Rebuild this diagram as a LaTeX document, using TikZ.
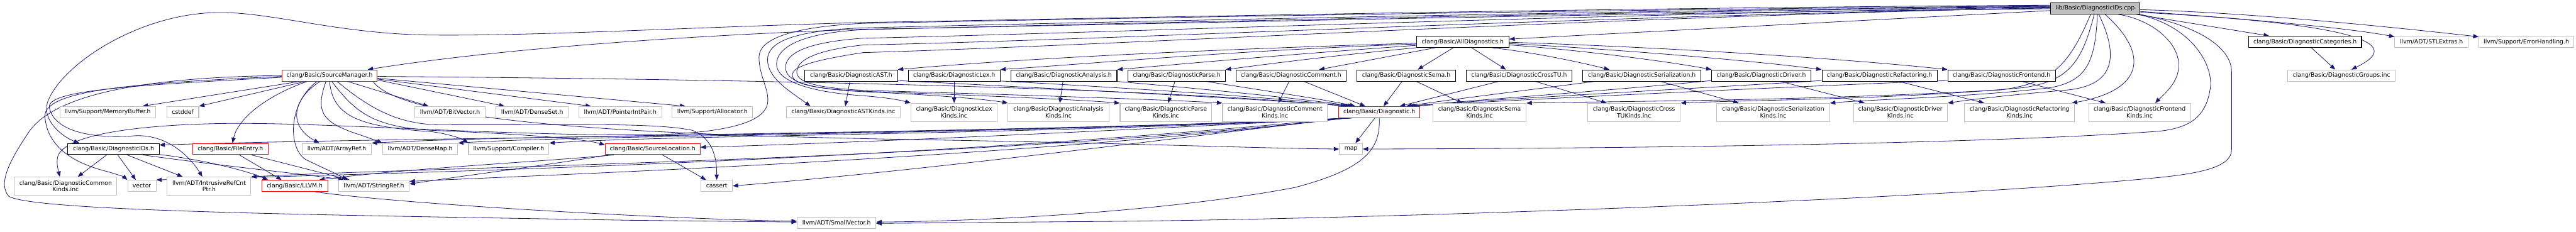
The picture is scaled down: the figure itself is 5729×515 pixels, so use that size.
\documentclass[tikz,border=0pt]{standalone}
\usepackage{fontspec}
\setmainfont{DejaVu Sans}
\usetikzlibrary{arrows.meta,calc}
\definecolor{edgeblue}{HTML}{191970}
\definecolor{boxgray}{HTML}{BFBFBF}
\definecolor{boxred}{HTML}{FF0000}
\newcommand\dgfont{\fontsize{9.75pt}{11.25pt}\selectfont}
\pgfdeclarelayer{edgelayer}
\pgfsetlayers{edgelayer,main}
\tikzset{
  box/.style={draw, rectangle, inner sep=0pt, minimum height=25*0.75pt, font=\dgfont, align=center, line width=1.1pt, fill=white},
  gbox/.style={box, draw=boxgray},
  rbox/.style={box, draw=boxred},
  kbox/.style={box, draw=black},
  two/.style={minimum height=40*0.75pt},
  wd/.style={minimum width=#1*0.75pt},
  dep/.style={draw=edgeblue, line width=0.85pt, -{Triangle[length=9pt,width=7pt]}},
}
\begin{document}
\begin{tikzpicture}[x=0.75pt,y=-0.75pt]
\useasboundingbox (0,0) rectangle (5729,515);
% ---------- nodes ----------
\node[kbox, fill=boxgray, wd=199] (root) at (4659.5,18.5) {lib/Basic/DiagnosticIDs.cpp};
\node[kbox, wd=206] (alld) at (3253,93) {clang/Basic/AllDiagnostics.h};
\node[kbox, wd=251] (cats) at (5126.5,93) {clang/Basic/DiagnosticCategories.h};
\node[gbox, wd=163] (stl) at (5407.5,93) {llvm/ADT/STLExtras.h};
\node[gbox, wd=211] (err) at (5618.5,93) {llvm/Support/ErrorHandling.h};
% row 2
\node[rbox, wd=212] (srcmgr) at (733,168) {clang/Basic/SourceManager.h};
\node[kbox, wd=206] (dast) at (1893,168) {clang/Basic/DiagnosticAST.h};
\node[kbox, wd=204] (dlex) at (2122,168) {clang/Basic/DiagnosticLex.h};
\node[kbox, wd=236] (dana) at (2366,168) {clang/Basic/DiagnosticAnalysis.h};
\node[kbox, wd=216] (dpar) at (2617,168) {clang/Basic/DiagnosticParse.h};
\node[kbox, wd=245] (dcom) at (2871.5,168) {clang/Basic/DiagnosticComment.h};
\node[kbox, wd=219] (dsema) at (3127.5,168) {clang/Basic/DiagnosticSema.h};
\node[kbox, wd=235] (dctu) at (3378.5,168) {clang/Basic/DiagnosticCrossTU.h};
\node[kbox, wd=263] (dser) at (3651.5,168) {clang/Basic/DiagnosticSerialization.h};
\node[kbox, wd=220] (ddrv) at (3917,168) {clang/Basic/DiagnosticDriver.h};
\node[kbox, wd=256] (dref) at (4180,168) {clang/Basic/DiagnosticRefactoring.h};
\node[kbox, wd=239] (dfro) at (4451.5,168) {clang/Basic/DiagnosticFrontend.h};
\node[gbox, wd=239] (groups) at (5207.5,168) {clang/Basic/DiagnosticGroups.inc};
% row 3
\node[gbox, wd=213] (membuf) at (239.5,249.5) {llvm/Support/MemoryBuffer.h};
\node[gbox, wd=71] (cstddef) at (406.5,249.5) {cstddef};
\node[gbox, wd=156] (bitvec) at (1001,249.5) {llvm/ADT/BitVector.h};
\node[gbox, wd=161] (denseset) at (1183.5,249.5) {llvm/ADT/DenseSet.h};
\node[gbox, wd=185] (pip) at (1379.5,249.5) {llvm/ADT/PointerIntPair.h};
\node[gbox, wd=179] (alloc) at (1584.5,249.5) {llvm/Support/Allocator.h};
\node[gbox, wd=253] (astk) at (1875.5,249.5) {clang/Basic/DiagnosticASTKinds.inc};
\node[gbox, two, wd=192] (lexk) at (2122,250) {clang/Basic/DiagnosticLex\\Kinds.inc};
\node[gbox, two, wd=224] (anak) at (2354,250) {clang/Basic/DiagnosticAnalysis\\Kinds.inc};
\node[gbox, two, wd=204] (park) at (2593,250) {clang/Basic/DiagnosticParse\\Kinds.inc};
\node[gbox, two, wd=233] (comk) at (2835.5,250) {clang/Basic/DiagnosticComment\\Kinds.inc};
\node[rbox, wd=181] (diag) at (3067.5,249.5) {clang/Basic/Diagnostic.h};
\node[gbox, two, wd=207] (semak) at (3290.5,250) {clang/Basic/DiagnosticSema\\Kinds.inc};
\node[gbox, two, wd=206] (ctuk) at (3634,250) {clang/Basic/DiagnosticCross\\TUKinds.inc};
\node[gbox, two, wd=251] (serk) at (3943.5,250) {clang/Basic/DiagnosticSerialization\\Kinds.inc};
\node[gbox, two, wd=209] (drvk) at (4226.5,250) {clang/Basic/DiagnosticDriver\\Kinds.inc};
\node[gbox, two, wd=245] (refk) at (4491.5,250) {clang/Basic/DiagnosticRefactoring\\Kinds.inc};
\node[gbox, two, wd=227] (frok) at (4758.5,250) {clang/Basic/DiagnosticFrontend\\Kinds.inc};
% row 4
\node[kbox, wd=203] (ids) at (252.5,331.5) {clang/Basic/DiagnosticIDs.h};
\node[rbox, wd=167] (fileentry) at (512.5,331.5) {clang/Basic/FileEntry.h};
\node[gbox, wd=154] (arrayref) at (749,331.5) {llvm/ADT/ArrayRef.h};
\node[gbox, wd=167] (densemap) at (934.5,331.5) {llvm/ADT/DenseMap.h};
\node[gbox, wd=179] (compiler) at (1131.5,331.5) {llvm/Support/Compiler.h};
\node[rbox, wd=211] (srcloc) at (1451.5,331.5) {clang/Basic/SourceLocation.h};
\node[gbox, wd=51] (map) at (3004.5,331.5) {map};
% row 5
\node[gbox, two, wd=228] (commonk) at (146,414) {clang/Basic/DiagnosticCommon\\Kinds.inc};
\node[gbox, wd=63] (vector) at (315.5,413.5) {vector};
\node[gbox, two, wd=186] (irc) at (465,414) {llvm/ADT/IntrusiveRefCnt\\Ptr.h};
\node[rbox, wd=147] (llvmh) at (655.5,413.5) {clang/Basic/LLVM.h};
\node[gbox, wd=157] (strref) at (831.5,413.5) {llvm/ADT/StringRef.h};
\node[gbox, wd=70] (cassert) at (1594,413.5) {cassert};
% row 6
\node[gbox, wd=175] (smallvec) at (1860.5,496) {llvm/ADT/SmallVector.h};

% ---------- edges ----------
\begin{pgfonlayer}{edgelayer}
% root
\draw[dep] ($(root.west)+(0,5)$) -- ($(alld.east)+(0,-6)$);
\draw[dep] ($(root.south east)+(-10,0)$) -- ($(cats.north west)+(46,0)$);
\draw[dep] ($(root.east)+(0,7)$) .. controls (5000,42) and (5220,62) .. ($(stl.north west)+(0,2)$);
\draw[dep] ($(root.east)+(0,3)$) .. controls (5000,28) and (5300,58) .. ($(err.north west)+(0,2)$);
\draw[dep] ($(root.east)+(0,9)$) .. controls (5380,60) and (5300,120) .. ($(groups.north)+(22,0)$);
\draw[dep] ($(cats.south)+(14,0)$) -- ($(groups.north)+(-14,0)$);
\draw[dep] ($(root.south)+(50,0)$) .. controls (4800,45) and (4880,120) .. (4830,190) .. controls (4815,210) and (4800,222) .. ($(frok.north)+(34.5,0)$);
\draw[dep] ($(root.south)+(22,0)$) .. controls (4780,120) and (4770,200) .. ($(refk.north east)+(-7,0)$);
\draw[dep] ($(root.south)+(8,0)$) .. controls (4720,140) and (4690,190) .. (4600,200) .. controls (4450,213) and (4380,222) .. (drvk.north east);
\draw[dep] ($(root.south)+(5,0)$) .. controls (4660,140) and (4640,180) .. (4560,195) .. controls (4400,215) and (4150,222) .. (serk.north east);
\draw[dep] ($(root.south)+(-2,0)$) .. controls (4630,140) and (4600,180) .. (4500,195) .. controls (4200,222) and (3900,222) .. (ctuk.north east);
\draw[dep] ($(root.south)+(-10,0)$) .. controls (4600,150) and (4560,185) .. (4450,200) .. controls (4000,225) and (3600,225) .. (semak.north east);
\draw[dep] ($(root.west)+(0,-5.5)$) .. controls (3500,22) and (2400,42) .. (1920,52) .. controls (1750,60) and (1688,90) .. (1688,127) .. controls (1688,170) and (1712,200) .. (1707,230) .. controls (1702,262) and (1650,296) .. (1440,300) .. controls (1100,302) and (700,270) .. (480,275) .. controls (300,279) and (140,300) .. (128,350) .. controls (125,365) and (130,380) .. ($(commonk.north)+(-13,0)$);
\draw[dep] ($(root.west)+(0,-4.5)$) .. controls (3500,25) and (2400,50) .. (1920,62) .. controls (1760,68) and (1707,95) .. (1707,133) .. controls (1707,175) and (1760,205) .. ($(astk.north west)+(54,0)$);
\draw[dep] ($(root.west)+(0,-3.5)$) .. controls (3500,28) and (2400,54) .. (1920,66) .. controls (1770,74) and (1727,110) .. (1727,143) .. controls (1727,180) and (1800,205) .. (1920,213) .. controls (1970,217) and (2000,222) .. (lexk.north west);
\draw[dep] ($(root.west)+(0,-2.5)$) .. controls (3500,32) and (2500,72) .. (1920,85) .. controls (1790,94) and (1747,120) .. (1747,150) .. controls (1747,182) and (1800,198) .. (1920,204) .. controls (2100,212) and (2200,222) .. (anak.north west);
\draw[dep] ($(root.west)+(0,-1.5)$) .. controls (3500,40) and (2500,100) .. (1920,117) .. controls (1800,135) and (1762,150) .. (1762,167) .. controls (1762,185) and (1800,197) .. (1920,203) .. controls (2200,213) and (2400,222) .. (park.north west);
\draw[dep] ($(root.west)+(0,-0.5)$) .. controls (3500,36) and (2500,88) .. (1920,100) .. controls (1810,112) and (1772,135) .. (1772,160) .. controls (1772,182) and (1810,195) .. (1920,201) .. controls (2300,212) and (2600,222) .. (comk.north west);
\draw[dep] ($(root.west)+(0,-7)$) .. controls (3500,18) and (2500,40) .. (1920,50) .. controls (1500,62) and (1200,80) .. (960,78) .. controls (750,76) and (600,25) .. (480,28) .. controls (300,32) and (130,150) .. (105,230) .. controls (95,270) and (140,305) .. ($(ids.north west)+(26,0)$);
\draw[dep] ($(root.west)+(0,1)$) .. controls (3500,30) and (2500,55) .. (1920,65) .. controls (1500,80) and (1100,110) .. ($(srcmgr.north east)+(-22,0)$);
\draw[dep] ($(root.south east)+(-5,0)$) .. controls (4880,60) and (4925,150) .. (4915,200) .. controls (4905,260) and (4870,285) .. (4800,292) .. controls (4500,315) and (3800,330) .. (map.east);
\draw[dep] ($(root.south east)+(-2,0)$) .. controls (4900,60) and (4963,110) .. (4963,160) -- (4963,333) .. controls (4963,370) and (4900,385) .. (4800,395) .. controls (4300,445) and (3000,490) .. (2400,493) -- ($(smallvec.east)+(0,1)$);
% AllDiagnostics
\draw[dep] ($(alld.west)+(0,3)$) .. controls (2700,110) and (2300,128) .. (dast.north east);
\draw[dep] ($(alld.west)+(0,5)$) .. controls (2750,112) and (2450,140) .. (dlex.north east);
\draw[dep] ($(alld.west)+(0,8)$) .. controls (2850,122) and (2600,145) .. (dana.north east);
\draw[dep] (alld.south west) .. controls (2950,125) and (2800,145) .. (dpar.north east);
\draw[dep] ($(alld.south)+(-61,0)$) -- ($(dcom.north east)+(-61,0)$);
\draw[dep] ($(alld.south)+(-21,0)$) -- ($(dsema.north)+(25.5,0)$);
\draw[dep] ($(alld.south)+(20,0)$) -- ($(dctu.north west)+(89,0)$);
\draw[dep] ($(alld.south east)+(-39,0)$) .. controls (3400,115) and (3500,135) .. ($(dser.north west)+(60,0)$);
\draw[dep] ($(alld.east)+(0,7)$) .. controls (3500,110) and (3700,135) .. (ddrv.north west);
\draw[dep] ($(alld.east)+(0,4)$) .. controls (3600,110) and (3900,135) .. (dref.north west);
\draw[dep] ($(alld.east)+(0,1)$) .. controls (3700,105) and (4100,130) .. (dfro.north west);
% Diagnostic*.h -> Kinds
\draw[dep] ($(dast.south)+(-3,0)$) -- ($(astk.north)+(4.5,0)$);
\draw[dep] (dlex.south) -- (lexk.north);
\draw[dep] ($(dana.south)+(-2,0)$) -- ($(anak.north)+(3,0)$);
\draw[dep] ($(dpar.south)+(-4,0)$) -- ($(park.north)+(5,0)$);
\draw[dep] ($(dcom.south)+(-4.5,0)$) -- ($(comk.north)+(7.5,0)$);
\draw[dep] ($(dsema.south)+(22.5,0)$) -- ($(semak.north)+(-38.5,0)$);
\draw[dep] ($(dctu.south)+(36.5,0)$) -- ($(ctuk.north)+(-61,0)$);
\draw[dep] ($(dser.south)+(41.5,0)$) -- ($(serk.north)+(-76.5,0)$);
\draw[dep] ($(ddrv.south)+(43,0)$) -- ($(drvk.north)+(-79.5,0)$);
\draw[dep] ($(dref.south)+(43,0)$) -- ($(refk.north)+(-78.5,0)$);
\draw[dep] ($(dfro.south)+(45.5,0)$) -- ($(frok.north)+(-75.5,0)$);
% Diagnostic*.h -> Diagnostic.h
\draw[dep] ($(dast.south east)+(0,-2)$) .. controls (2400,200) and (2800,220) .. ($(diag.north west)+(23,0)$);
\draw[dep] ($(dlex.south east)+(0,-1)$) .. controls (2500,195) and (2850,218) .. ($(diag.north west)+(28,0)$);
\draw[dep] (dana.south east) .. controls (2700,200) and (2900,220) .. ($(diag.north west)+(33,0)$);
\draw[dep] ($(dpar.south)+(66,0)$) .. controls (2800,200) and (2950,222) .. ($(diag.north west)+(38,0)$);
\draw[dep] ($(dcom.south)+(28.5,0)$) -- ($(diag.north west)+(60,0)$);
\draw[dep] ($(dsema.south)+(-9.5,0)$) -- ($(diag.north)+(9.5,0)$);
\draw[dep] ($(dctu.south)+(-45.5,0)$) -- ($(diag.north)+(45.5,0)$);
\draw[dep] ($(dser.south west)+(27,0)$) .. controls (3400,200) and (3200,225) .. ($(diag.north)+(60,0)$);
\draw[dep] ($(ddrv.south west)+(0,-2)$) .. controls (3600,200) and (3250,225) .. ($(diag.north)+(65,0)$);
\draw[dep] ($(dref.south west)+(0,-2)$) .. controls (3800,195) and (3300,222) .. ($(diag.north)+(68,0)$);
\draw[dep] ($(dfro.south west)+(0,-2)$) .. controls (4000,192) and (3400,220) .. ($(diag.north)+(71,0)$);
% SourceManager
\draw[dep] ($(srcmgr.south west)+(40,0)$) -- ($(membuf.north)+(77.5,0)$);
\draw[dep] ($(srcmgr.south west)+(53,0)$) -- (cstddef.north east);
\draw[dep] ($(srcmgr.south)+(40,0)$) -- ($(bitvec.north)+(-48,0)$);
\draw[dep] ($(srcmgr.east)+(0,10)$) -- ($(denseset.north west)+(20,0)$);
\draw[dep] ($(srcmgr.east)+(0,8)$) -- ($(pip.north west)+(28,0)$);
\draw[dep] ($(srcmgr.east)+(0,6)$) -- ($(alloc.north west)+(30,0)$);
\draw[dep] ($(srcmgr.south)+(-50,0)$) .. controls (600,210) and (530,260) .. ($(fileentry.north)+(4.5,0)$);
\draw[dep] ($(srcmgr.south)+(-21,0)$) .. controls (650,220) and (640,280) .. ($(arrayref.north)+(-39,0)$);
\draw[dep] ($(srcmgr.south)+(-28,0)$) .. controls (640,230) and (640,330) .. (680,355) .. controls (715,372) and (745,385) .. ($(strref.north west)+(20,0)$);
\draw[dep] ($(srcmgr.south)+(-8,0)$) .. controls (700,250) and (720,270) .. (780,293) .. controls (810,303) and (835,312) .. (densemap.north west);
\draw[dep] (srcmgr.south) .. controls (740,260) and (800,282) .. (960,293) .. controls (1000,298) and (1030,310) .. (compiler.north west);
\draw[dep] ($(srcmgr.south)+(5,0)$) .. controls (790,250) and (830,282) .. (960,290) .. controls (1200,300) and (1300,310) .. ($(srcloc.north west)+(0,4)$);
\draw[dep] ($(srcmgr.south)+(17,0)$) .. controls (820,240) and (880,272) .. (960,277) .. controls (1200,280) and (1450,270) .. (1540,290) .. controls (1590,310) and (1594,360) .. (cassert.north);
\draw[dep] ($(srcmgr.west)+(0,4)$) .. controls (300,190) and (100,200) .. (110,240) .. controls (120,290) and (200,310) .. (300,302) .. controls (380,298) and (430,360) .. ($(irc.north)+(-15,0)$);
\draw[dep] ($(srcmgr.west)+(0,2)$) .. controls (300,185) and (95,200) .. (100,260) .. controls (105,330) and (170,365) .. (240,382) .. controls (260,388) and (275,393) .. (vector.north west);
\draw[dep] (srcmgr.west) .. controls (300,172) and (110,215) .. (60,300) .. controls (20,360) and (-5,410) .. (20,437) .. controls (80,470) and (700,478) .. (1400,490) -- ($(smallvec.west)+(0,-2)$);
\draw[dep] ($(srcmgr.east)+(0,2)$) .. controls (1500,175) and (2500,190) .. ($(diag.north west)+(18,0)$);
\draw[dep] ($(srcmgr.south east)+(-10,0)$) .. controls (900,280) and (1500,300) .. (2000,310) .. controls (2500,318) and (2800,330) .. (map.west);
% Diagnostic.h
\draw[dep] ($(diag.south west)+(30,0)$) .. controls (2200,300) and (900,305) .. ($(ids.east)+(0,-9)$);
\draw[dep] ($(diag.south west)+(28,0)$) .. controls (2500,290) and (1900,318) .. ($(srcloc.east)+(0,-4)$);
\draw[dep] ($(diag.south west)+(26,0)$) .. controls (2300,300) and (1500,300) .. (compiler.north east);
\draw[dep] ($(diag.south west)+(24,0)$) .. controls (2200,300) and (1300,300) .. (densemap.north east);
\draw[dep] ($(diag.south west)+(22,0)$) .. controls (2200,298) and (1200,298) .. (arrayref.north east);
\draw[dep] ($(diag.south west)+(18,0)$) .. controls (2200,355) and (1000,370) .. (irc.north east);
\draw[dep] ($(diag.south west)+(16,0)$) .. controls (2300,350) and (1200,390) .. ($(strref.east)+(0,-10)$);
\draw[dep] ($(diag.south west)+(12,0)$) .. controls (2000,360) and (900,385) .. (vector.north east);
\draw[dep] ($(diag.south west)+(8,0)$) .. controls (2600,310) and (2000,385) .. (cassert.east);
\draw[dep] ($(diag.south)+(-10,0)$) -- ($(map.north)+(10,0)$);
\draw[dep] (diag.south) .. controls (3070,330) and (3040,375) .. (2880,417) .. controls (2600,470) and (2200,492) .. ($(smallvec.east)+(0,-2)$);
% FileEntry, SourceLocation
\draw[dep] ($(fileentry.south)+(20,0)$) -- ($(llvmh.north west)+(45,0)$);
\draw[dep] ($(fileentry.south)+(47,0)$) -- ($(strref.north west)+(25,0)$);
\draw[dep] ($(srcloc.south)+(22,0)$) -- ($(cassert.north west)+(12,0)$);
\draw[dep] ($(srcloc.south west)+(20,0)$) .. controls (1200,360) and (900,375) .. ($(llvmh.north east)+(-20,0)$);
\draw[dep] ($(srcloc.south west)+(8,0)$) .. controls (1200,370) and (1000,395) .. ($(strref.east)+(0,-4)$);
% DiagnosticIDs.h
\draw[dep] ($(ids.south)+(-15.5,0)$) -- ($(commonk.north)+(27,0)$);
\draw[dep] ($(ids.south)+(9.5,0)$) -- ($(vector.north)+(-13.5,0)$);
\draw[dep] ($(ids.south)+(30.5,0)$) -- ($(irc.north west)+(35,0)$);
\draw[dep] ($(ids.south east)+(0,-1)$) .. controls (450,355) and (550,380) .. ($(llvmh.north west)+(15,0)$);
\draw[dep] ($(ids.south east)+(-37,0)$) .. controls (500,370) and (700,390) .. ($(strref.north west)+(12,0)$);
% LLVM.h
\draw[dep] ($(llvmh.south)+(45,0)$) .. controls (900,455) and (1500,488) .. ($(smallvec.west)+(0,-4)$);
\end{pgfonlayer}
\end{tikzpicture}
\end{document}
